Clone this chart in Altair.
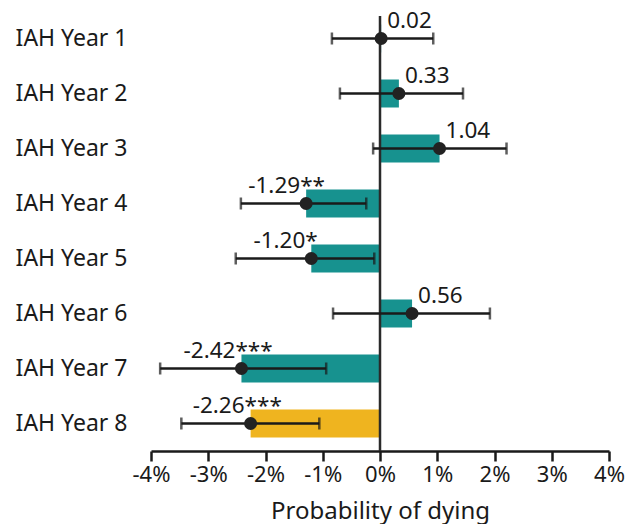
import altair as alt
import pandas as pd

# Marginal effect of each IAH year on the probability of dying (percentage points)
years = ["IAH Year 1", "IAH Year 2", "IAH Year 3", "IAH Year 4",
         "IAH Year 5", "IAH Year 6", "IAH Year 7", "IAH Year 8"]
estimates = [0.02, 0.33, 1.04, -1.29, -1.20, 0.56, -2.42, -2.26]
ci_low = [-0.84, -0.70, -0.12, -2.43, -2.52, -0.82, -3.84, -3.47]
ci_high = [0.93, 1.45, 2.21, -0.24, -0.10, 1.92, -0.94, -1.06]
stars = ["", "", "", "**", "*", "", "***", "***"]
groups = ["base", "base", "base", "base", "base", "base", "base", "highlight"]

df = pd.DataFrame({
    "year": years,
    "est": estimates,
    "lo": ci_low,
    "hi": ci_high,
    "stars": stars,
    "group": groups,
})
df["num"] = df["est"].map(lambda v: f"{v:.2f}")

FONT = "Noto Sans"
INK = "#1a1a1a"
LABEL_SIZE = 22.5

x_scale = alt.Scale(domain=[-4, 4], nice=False)
y_enc = alt.Y(
    "year:N",
    sort=years,
    title=None,
    axis=alt.Axis(
        ticks=False, domain=False, labelFontSize=23, labelColor=INK,
        labelFont=FONT, labelPadding=24, labelLimit=300,
    ),
)
x_enc = alt.X(
    "est:Q",
    scale=x_scale,
    title="Probability of dying",
    axis=alt.Axis(
        values=[-4, -3, -2, -1, 0, 1, 2, 3, 4],
        labelExpr="datum.value + '%'",
        labelFlush=False, labelOverlap=False,
        grid=False, domainColor=INK, domainWidth=2.5,
        tickColor=INK, tickWidth=2.5, tickSize=10,
        labelFontSize=22, labelColor=INK, labelFont=FONT, labelPadding=3,
        titleFontSize=24, titleFont=FONT, titleColor=INK,
        titleFontWeight="normal", titlePadding=14,
    ),
)

base = alt.Chart(df)

bars = base.mark_bar(size=28).encode(
    x=x_enc,
    x2=alt.datum(0),
    y=y_enc,
    color=alt.Color(
        "group:N",
        scale=alt.Scale(domain=["base", "highlight"], range=["#17928f", "#efb41f"]),
        legend=None,
    ),
)

zero_line = alt.Chart(pd.DataFrame({"z": [0]})).mark_rule(
    color="#2a2a2a", strokeWidth=2.5
).encode(
    x=alt.X("z:Q", scale=x_scale),
    y=alt.value(5),
    y2=alt.value(440),
)

whisker = base.mark_rule(color=INK, strokeWidth=2.5).encode(
    x=alt.X("lo:Q", scale=x_scale),
    x2="hi:Q",
    y=alt.Y("year:N", sort=years),
)
cap_lo = base.mark_tick(color=INK, thickness=2.5, size=12, orient="vertical").encode(
    x=alt.X("lo:Q", scale=x_scale), y=alt.Y("year:N", sort=years)
)
cap_hi = base.mark_tick(color=INK, thickness=2.5, size=12, orient="vertical").encode(
    x=alt.X("hi:Q", scale=x_scale), y=alt.Y("year:N", sort=years)
)

points = base.mark_circle(size=170, color="#222222", opacity=1).encode(
    x=alt.X("est:Q", scale=x_scale), y=alt.Y("year:N", sort=years)
)

pos_labels = base.transform_filter("datum.est >= 0").mark_text(
    align="left", baseline="alphabetic", dx=6, dy=-11,
    fontSize=LABEL_SIZE, font=FONT, color=INK,
).encode(x=alt.X("est:Q", scale=x_scale), y=alt.Y("year:N", sort=years), text="num:N")

neg_labels = base.transform_filter("datum.est < 0").mark_text(
    align="right", baseline="alphabetic", dx=-6, dy=-11,
    fontSize=LABEL_SIZE, font=FONT, color=INK,
).encode(x=alt.X("est:Q", scale=x_scale), y=alt.Y("year:N", sort=years), text="num:N")

star_labels = base.transform_filter("datum.est < 0").mark_text(
    align="left", baseline="alphabetic", dx=-6, dy=-11,
    fontSize=LABEL_SIZE, font=FONT, color=INK,
).encode(x=alt.X("est:Q", scale=x_scale), y=alt.Y("year:N", sort=years), text="stars:N")

chart = alt.layer(
    bars, zero_line, whisker, cap_lo, cap_hi, points, pos_labels, neg_labels, star_labels
).properties(
    width=458,
    height=440,
    autosize=alt.AutoSizeParams(type="none"),
    padding={"left": 151, "top": 11, "right": 21, "bottom": 73},
).configure_view(stroke=None).configure_scale(bandPaddingInner=0.2)

chart.save("out.html", embed_options={"renderer": "svg", "actions": False})
